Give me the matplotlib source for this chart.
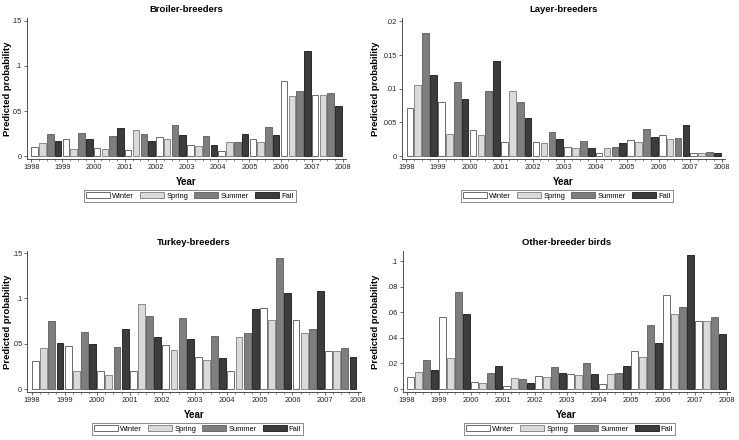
import matplotlib.pyplot as plt
from matplotlib.patches import Patch

plt.rcParams['font.family'] = ['Liberation Sans', 'DejaVu Sans']

# Datos (probabilidad predicha por estacion y anio)
anios = [1998, 1999, 2000, 2001, 2002, 2003, 2004, 2005, 2006, 2007]
estaciones = ["Winter", "Spring", "Summer", "Fall"]
etiquetas_x = ["1998", "1999", "2000", "2001", "2002", "2003", "2004", "2005", "2006", "2007", "2008"]

broiler_winter = [0.0096, 0.0185, 0.0089, 0.0063, 0.0210, 0.0122, 0.0056, 0.0185, 0.0830, 0.0678]
broiler_spring = [0.0144, 0.0081, 0.0074, 0.0285, 0.0185, 0.0115, 0.0152, 0.0160, 0.0663, 0.0674]
broiler_summer = [0.0250, 0.0260, 0.0220, 0.0240, 0.0344, 0.0222, 0.0160, 0.0319, 0.0722, 0.0704]
broiler_fall = [0.0167, 0.0193, 0.0307, 0.0167, 0.0237, 0.0122, 0.0240, 0.0230, 0.1170, 0.0556]

layer_winter = [0.0071, 0.0081, 0.0039, 0.0021, 0.0021, 0.0014, 0.0004, 0.0024, 0.0032, 0.0005]
layer_spring = [0.0105, 0.0033, 0.0032, 0.0097, 0.0020, 0.0012, 0.0012, 0.0021, 0.0025, 0.0005]
layer_summer = [0.0182, 0.0110, 0.0097, 0.0081, 0.0036, 0.0022, 0.0014, 0.0040, 0.0027, 0.0006]
layer_fall = [0.0120, 0.0084, 0.0141, 0.0056, 0.0025, 0.0012, 0.0020, 0.0028, 0.0046, 0.0005]

turkey_winter = [0.0309, 0.0474, 0.0195, 0.0202, 0.0489, 0.0349, 0.0195, 0.0893, 0.0761, 0.0419]
turkey_spring = [0.0449, 0.0202, 0.0154, 0.0938, 0.0430, 0.0320, 0.0570, 0.0761, 0.0614, 0.0419]
turkey_summer = [0.0754, 0.0632, 0.0467, 0.0801, 0.0779, 0.0588, 0.0621, 0.1440, 0.0665, 0.0449]
turkey_fall = [0.0507, 0.0493, 0.0662, 0.0570, 0.0551, 0.0342, 0.0882, 0.1063, 0.1080, 0.0349]

other_winter = [0.0093, 0.0564, 0.0054, 0.0023, 0.0106, 0.0116, 0.0039, 0.0296, 0.0735, 0.0531]
other_spring = [0.0137, 0.0240, 0.0046, 0.0085, 0.0093, 0.0111, 0.0116, 0.0253, 0.0588, 0.0531]
other_summer = [0.0229, 0.0760, 0.0126, 0.0075, 0.0173, 0.0204, 0.0126, 0.0497, 0.0642, 0.0559]
other_fall = [0.0152, 0.0588, 0.0178, 0.0049, 0.0124, 0.0116, 0.0183, 0.0361, 0.1044, 0.0433]

# Estilo de las barras (relleno, borde)
relleno = ["#ffffff", "#dadada", "#7e7e7e", "#3c3c3c"]
borde = ["#6a6a6a", "#8a8a8a", "#6a6a6a", "#2a2a2a"]


def graficar_panel(ax, titulo, series, yticks, yetiquetas, ylim, xlabel_y):
    for k, valores in enumerate(series):
        posiciones = [a + 0.11 + 0.25 * k for a in anios]
        ax.bar(posiciones, valores, width=0.21, color=relleno[k],
               edgecolor=borde[k], linewidth=0.7)

    ax.set_xlim(1997.86, 2008.1)
    ax.set_ylim(*ylim)
    ax.set_xticks(range(1998, 2009))
    ax.set_xticklabels(etiquetas_x)
    ax.set_xticks([a + q for a in anios for q in (0.25, 0.5, 0.75)], minor=True)
    ax.set_yticks(yticks)
    ax.set_yticklabels(yetiquetas)

    ax.tick_params(axis="both", which="major", labelsize=5.3, length=2.2, width=0.5,
                   pad=1.5, color="#333333", labelcolor="#222222")
    ax.tick_params(axis="x", which="minor", length=1.3, width=0.4, color="#333333")
    for lado in ["top", "right"]:
        ax.spines[lado].set_visible(False)
    for lado in ["left", "bottom"]:
        ax.spines[lado].set_linewidth(0.6)
        ax.spines[lado].set_color("#333333")

    ax.set_title(titulo, fontsize=6.8, fontweight="bold", pad=4.5)
    ax.set_xlabel("Year", fontsize=7, fontweight="bold")
    ax.xaxis.set_label_coords(0.5, -0.125)
    ax.set_ylabel("Predicted probability", fontsize=6.8, fontweight="bold")
    ax.yaxis.set_label_coords(xlabel_y, 0.5)

    manijas = [Patch(facecolor=relleno[k], edgecolor=borde[k], linewidth=0.7)
               for k in range(4)]
    ley = ax.legend(manijas, estaciones, loc="center", bbox_to_anchor=(0.51, -0.262),
                    ncol=4, fontsize=5.4, frameon=True, fancybox=False,
                    handlelength=3.2, handleheight=0.85, handletextpad=0.3,
                    columnspacing=0.8, borderpad=0.3, borderaxespad=0)
    ley.get_frame().set_edgecolor("#555555")
    ley.get_frame().set_linewidth(0.6)


fig = plt.figure(figsize=(7.39, 4.40), dpi=100)

ax1 = fig.add_axes([0.0365, 0.6386, 0.4317, 0.3205])
ax2 = fig.add_axes([0.544, 0.6386, 0.437, 0.3205])
ax3 = fig.add_axes([0.0372, 0.109, 0.451, 0.3205])
ax4 = fig.add_axes([0.5447, 0.109, 0.443, 0.3205])

graficar_panel(ax1, "Broiler-breeders",
               [broiler_winter, broiler_spring, broiler_summer, broiler_fall],
               [0, 0.05, 0.1, 0.15], ["0", ".05", ".1", ".15"], (-0.0033, 0.1533), -0.047)
graficar_panel(ax2, "Layer-breeders",
               [layer_winter, layer_spring, layer_summer, layer_fall],
               [0, 0.005, 0.01, 0.015, 0.02], ["0", ".005", ".01", ".015", ".02"],
               (-0.00044, 0.0205), -0.068)
graficar_panel(ax3, "Turkey-breeders",
               [turkey_winter, turkey_spring, turkey_summer, turkey_fall],
               [0, 0.05, 0.1, 0.15], ["0", ".05", ".1", ".15"], (-0.0033, 0.1522), -0.046)
graficar_panel(ax4, "Other-breeder birds",
               [other_winter, other_spring, other_summer, other_fall],
               [0, 0.02, 0.04, 0.06, 0.08, 0.1], ["0", ".02", ".04", ".06", ".08", ".1"],
               (-0.0023, 0.1078), -0.068)

fig.savefig("out.png", dpi=100, facecolor="white")
